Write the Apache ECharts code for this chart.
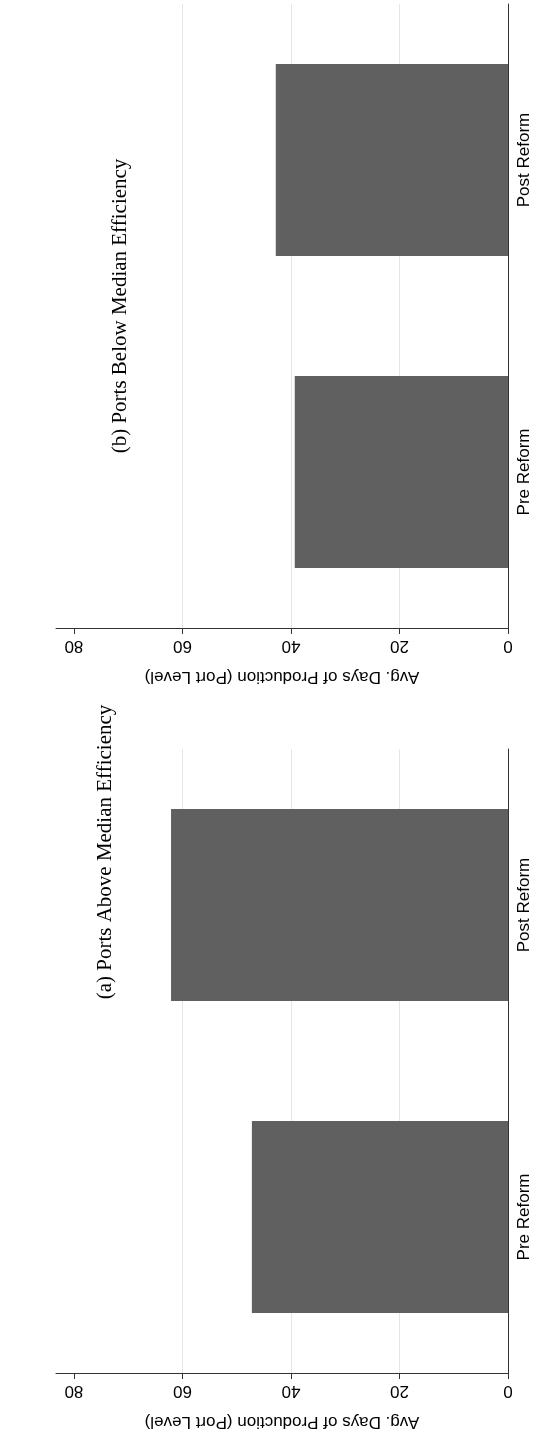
<!DOCTYPE html>
<html>
<head>
<meta charset="utf-8">
<script src="https://cdn.jsdelivr.net/npm/echarts@6/dist/echarts.min.js"></script>
<style>
html,body{margin:0;padding:0;background:#fff;}
#chart{width:533px;height:1431px;}
</style>
</head>
<body>
<div id="chart"></div>
<script>
const categories = ['Pre Reform', 'Post Reform'];
const aboveMedian = [47.2, 62.1];
const belowMedian = [39.3, 42.8];
const tickValues = [0, 20, 40, 60, 80];
const panelTitles = ['(a) Ports Above Median Efficiency', '(b) Ports Below Median Efficiency'];
const axisTitle = 'Avg. Days of Production (Port Level)';

const SANS = '"Liberation Sans", Arial, Helvetica, sans-serif';
const SERIF = '"Liberation Serif", "Times New Roman", serif';

const chart = echarts.init(document.getElementById('chart'), null, {renderer: 'canvas'});

function xAxisFor(gridIndex) {
  return {
    type: 'value', gridIndex: gridIndex, min: 0, max: 83.3, interval: 20, inverse: true,
    position: 'bottom',
    axisLine: {show: true, lineStyle: {color: '#333', width: 1}},
    axisTick: {show: true, length: 6, lineStyle: {color: '#333'}, customValues: tickValues},
    axisLabel: {rotate: 180, margin: 9, fontFamily: SANS, fontSize: 17, color: '#000', customValues: tickValues},
    splitLine: {show: true, lineStyle: {color: ['rgba(0,0,0,0)', '#e6e6e6', '#e6e6e6', '#e6e6e6', 'rgba(0,0,0,0)', 'rgba(0,0,0,0)'], width: 1}},
    name: axisTitle, nameLocation: 'middle', nameRotate: 180, nameGap: 40,
    nameTextStyle: {fontFamily: SANS, fontSize: 17, color: '#000'}
  };
}
function yAxisFor(gridIndex) {
  return {
    type: 'category', gridIndex: gridIndex, data: categories, position: 'right',
    axisLine: {show: true, lineStyle: {color: '#333', width: 1}},
    axisTick: {show: false},
    axisLabel: {rotate: 90, margin: 8, fontFamily: SANS, fontSize: 17, color: '#000'},
    splitLine: {show: false}
  };
}

chart.setOption({
  animation: false,
  backgroundColor: '#fff',
  grid: [
    {left: 56, right: 25, top: 4, height: 624},
    {left: 56, right: 25, top: 749, height: 624}
  ],
  xAxis: [xAxisFor(0), xAxisFor(1)],
  yAxis: [yAxisFor(0), yAxisFor(1)],
  series: [
    {type: 'bar', xAxisIndex: 0, yAxisIndex: 0, data: belowMedian, barWidth: 192,
     itemStyle: {color: '#606060'}},
    {type: 'bar', xAxisIndex: 1, yAxisIndex: 1, data: aboveMedian, barWidth: 192,
     itemStyle: {color: '#606060'}}
  ],
  graphic: [
    {type: 'text', x: 120, y: 306, rotation: Math.PI / 2,
     style: {text: panelTitles[1], font: '21px ' + SERIF, fill: '#000', align: 'center', verticalAlign: 'middle'}},
    {type: 'text', x: 105, y: 852, rotation: Math.PI / 2,
     style: {text: panelTitles[0], font: '21px ' + SERIF, fill: '#000', align: 'center', verticalAlign: 'middle'}}
  ]
});
</script>
</body>
</html>
